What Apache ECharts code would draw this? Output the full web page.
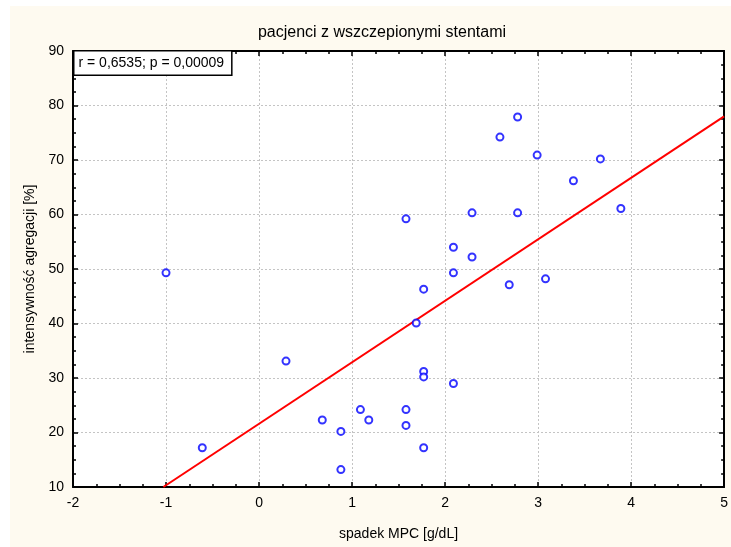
<!DOCTYPE html>
<html>
<head>
<meta charset="utf-8">
<script src="https://cdn.jsdelivr.net/npm/echarts@6/dist/echarts.min.js"></script>
<style>
  html, body { margin: 0; padding: 0; background: #fff; }
  #chart { width: 731px; height: 547px; }
</style>
</head>
<body>
<div id="chart"></div>
<script>
// spadek MPC [g/dL]
const mpcDrop = [-1.0, -0.61, 0.29, 0.68, 0.88, 0.88, 1.09, 1.18, 1.58, 1.58,
  1.58, 1.69, 1.77, 1.77, 1.77, 1.77, 2.09, 2.09, 2.09, 2.29,
  2.29, 2.59, 2.78, 2.78, 2.69, 3.08, 2.99, 3.38, 3.67, 3.89]
// intensywność agregacji [%]
const aggregation = [49.3, 17.2, 33.1, 22.3, 20.2, 13.2, 24.2, 22.3, 24.2, 21.3,
  59.2, 40.1, 46.3, 31.2, 30.2, 17.2, 29.0, 54.0, 49.3, 52.2,
  60.3, 74.2, 77.9, 60.3, 47.1, 48.2, 70.9, 66.2, 70.2, 61.1]
// linia regresji
const fitIntercept = 21.6
const fitSlope = 11.28
const statsText = 'r = 0,6535; p = 0,00009'

const xMin = -2, xMax = 5, yMin = 10, yMax = 90

const points = mpcDrop.map((x, i) => [x, aggregation[i]])
const fitStart = (yMin - fitIntercept) / fitSlope
const fitLine = [[fitStart, yMin], [xMax, fitIntercept + fitSlope * xMax]]

const font = 'Liberation Sans, Arial, sans-serif'

const chart = echarts.init(document.getElementById('chart'))

function axisCommon(showLabels) {
  return {
    axisLine: { show: true, onZero: false, lineStyle: { color: '#000', width: 2 } },
    axisTick: { show: true, inside: true, length: 5, lineStyle: { color: '#000', width: 1.5 } },
    minorTick: { show: true, splitNumber: 4, length: 3, lineStyle: { color: '#000', width: 1.5 } },
    axisLabel: { show: showLabels, color: '#000', fontSize: 14, fontFamily: font },
    splitLine: { show: false }
  }
}

chart.setOption({
  backgroundColor: '#fff',
  animation: false,
  graphic: [
    { type: 'rect', z: -10, shape: { x: 10, y: 6, width: 721, height: 541 }, style: { fill: '#fefaf0' } },
    {
      type: 'text', z: 100, left: 73, top: 50,
      style: {
        text: statsText, fill: '#000', fontSize: 14, fontFamily: font,
        backgroundColor: '#fff', borderColor: '#000', borderWidth: 1.5,
        padding: [5, 7, 4, 4]
      }
    }
  ],
  title: {
    text: 'pacjenci z wszczepionymi stentami',
    left: 377, top: 20, textAlign: 'center',
    textStyle: { fontSize: 16, fontWeight: 'normal', color: '#000', fontFamily: font }
  },
  grid: {
    left: 73, top: 51, right: 4, bottom: 60,
    show: true, backgroundColor: '#fff', borderColor: '#000', borderWidth: 0
  },
  xAxis: [
    Object.assign(axisCommon(true), {
      type: 'value', position: 'bottom', min: xMin, max: xMax, interval: 1,
      name: 'spadek MPC [g/dL]', nameLocation: 'middle', nameGap: 40,
      nameTextStyle: { color: '#000', fontSize: 14, fontFamily: font },
      axisLabel: { show: true, color: '#000', fontSize: 14, fontFamily: font, margin: 9 },
      splitLine: { show: true, lineStyle: { color: '#c4c4c4', type: [2, 2], width: 1 } }
    }),
    Object.assign(axisCommon(false), {
      type: 'value', position: 'top', min: xMin, max: xMax, interval: 1
    })
  ],
  yAxis: [
    Object.assign(axisCommon(true), {
      type: 'value', position: 'left', min: yMin, max: yMax, interval: 10,
      name: 'intensywność agregacji [%]', nameLocation: 'middle', nameGap: 31,
      nameTextStyle: { color: '#000', fontSize: 14, fontFamily: font },
      axisLabel: { show: true, color: '#000', fontSize: 14, fontFamily: font, margin: 9 },
      splitLine: { show: true, lineStyle: { color: '#c4c4c4', type: [2, 2], width: 1 } }
    }),
    Object.assign(axisCommon(false), {
      type: 'value', position: 'right', min: yMin, max: yMax, interval: 10
    })
  ],
  series: [
    {
      type: 'line',
      data: fitLine,
      showSymbol: false,
      lineStyle: { color: '#ff0000', width: 2 },
      z: 3
    },
    {
      type: 'scatter',
      data: points,
      symbol: 'circle',
      symbolSize: 7,
      itemStyle: { color: '#fff', borderColor: '#0000ff', borderWidth: 2 },
      z: 4
    }
  ]
})
</script>
</body>
</html>
